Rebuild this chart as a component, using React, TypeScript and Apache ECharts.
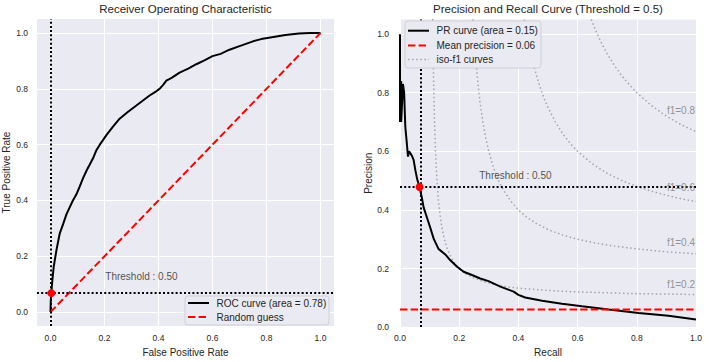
import React, { useEffect, useRef } from "react";
import * as echarts from "echarts";

// ---------- data ----------
const tickValues = [0, 0.2, 0.4, 0.6, 0.8, 1.0];

const rocFpr = [0, 0.001, 0.003, 0.007, 0.012, 0.022, 0.034, 0.047, 0.059, 0.071, 0.083, 0.096, 0.108, 0.121, 0.135, 0.145, 0.158, 0.17, 0.182, 0.195, 0.207, 0.23, 0.256, 0.285, 0.318, 0.345, 0.367, 0.39, 0.404, 0.418, 0.429, 0.45, 0.478, 0.51, 0.54, 0.57, 0.6, 0.63, 0.663, 0.7, 0.75, 0.78, 0.82, 0.87, 0.92, 0.96, 1.0];
const rocTpr = [0, 0.04, 0.068, 0.116, 0.163, 0.222, 0.281, 0.316, 0.35, 0.375, 0.4, 0.422, 0.45, 0.481, 0.51, 0.528, 0.552, 0.58, 0.599, 0.617, 0.634, 0.663, 0.693, 0.716, 0.74, 0.76, 0.776, 0.79, 0.8, 0.815, 0.829, 0.84, 0.858, 0.872, 0.888, 0.902, 0.917, 0.925, 0.94, 0.953, 0.97, 0.978, 0.985, 0.993, 0.998, 1.0, 1.0];

const randomGuessX = [0, 1];
const randomGuessY = [0, 1];

const prRecall = [0, 0, 0.004, 0.005, 0.004, 0.01, 0.014, 0.016, 0.018, 0.022, 0.027, 0.031, 0.035, 0.04, 0.046, 0.052, 0.058, 0.066, 0.074, 0.08, 0.091, 0.102, 0.114, 0.13, 0.153, 0.17, 0.193, 0.215, 0.243, 0.271, 0.299, 0.339, 0.384, 0.4, 0.423, 0.48, 0.547, 0.615, 0.705, 0.806, 0.907, 1.0];
const prPrecision = [1.0, 0.7, 0.84, 0.76, 0.7, 0.83, 0.8, 0.74, 0.683, 0.64, 0.582, 0.6, 0.593, 0.585, 0.571, 0.535, 0.505, 0.478, 0.441, 0.408, 0.374, 0.34, 0.301, 0.267, 0.248, 0.228, 0.206, 0.189, 0.178, 0.166, 0.157, 0.138, 0.121, 0.11, 0.101, 0.09, 0.08, 0.071, 0.06, 0.048, 0.039, 0.026];

const meanPrecisionX = [0, 1];
const meanPrecisionY = [0.06, 0.06];

const iso02Recall = [0.1105, 0.112, 0.114, 0.116, 0.118, 0.12, 0.123, 0.126, 0.13, 0.135, 0.14, 0.145, 0.15, 0.16, 0.17, 0.18, 0.19, 0.2, 0.22, 0.25, 0.28, 0.32, 0.36, 0.4, 0.45, 0.5, 0.6, 0.7, 0.8, 0.9, 1.0];
const iso02Precision = [1.052, 0.933, 0.814, 0.725, 0.656, 0.6, 0.535, 0.485, 0.433, 0.386, 0.35, 0.322, 0.3, 0.267, 0.243, 0.225, 0.211, 0.2, 0.183, 0.167, 0.156, 0.145, 0.138, 0.133, 0.129, 0.125, 0.12, 0.117, 0.114, 0.113, 0.111];
const iso04Recall = [0.247, 0.25, 0.255, 0.26, 0.265, 0.27, 0.28, 0.29, 0.3, 0.31, 0.32, 0.335, 0.35, 0.375, 0.4, 0.43, 0.46, 0.5, 0.55, 0.6, 0.65, 0.7, 0.8, 0.9, 1.0];
const iso04Precision = [1.051, 1.0, 0.927, 0.867, 0.815, 0.771, 0.7, 0.644, 0.6, 0.564, 0.533, 0.496, 0.467, 0.429, 0.4, 0.374, 0.354, 0.333, 0.314, 0.3, 0.289, 0.28, 0.267, 0.257, 0.25];
const iso06Recall = [0.42, 0.425, 0.43, 0.44, 0.45, 0.46, 0.475, 0.49, 0.5, 0.525, 0.55, 0.575, 0.6, 0.65, 0.7, 0.75, 0.8, 0.85, 0.9, 0.95, 1.0];
const iso06Precision = [1.05, 1.02, 0.992, 0.943, 0.9, 0.863, 0.814, 0.772, 0.75, 0.7, 0.66, 0.627, 0.6, 0.557, 0.525, 0.5, 0.48, 0.464, 0.45, 0.438, 0.429];
const iso08Recall = [0.646, 0.66, 0.68, 0.7, 0.725, 0.75, 0.775, 0.8, 0.85, 0.9, 0.95, 1.0];
const iso08Precision = [1.05, 1.015, 0.971, 0.933, 0.892, 0.857, 0.827, 0.8, 0.756, 0.72, 0.691, 0.667];

const isoLabels = ["f1=0.2", "f1=0.4", "f1=0.6", "f1=0.8"];
const isoLabelY = [0.144, 0.288, 0.477, 0.74];
const isoLabelX = 0.9;

const rocThresholdPoint = [0.003, 0.068];
const prThresholdPoint = [0.066, 0.478];
const thresholdLabel = "Threshold : 0.50";
const rocThresholdTextPos = [0.201, 0.127];
const prThresholdTextPos = [0.266, 0.518];

const rocLegend = ["ROC curve (area = 0.78)", "Random guess"];
const prLegend = ["PR curve (area = 0.15)", "Mean precision = 0.06", "iso-f1 curves"];
const titles = ["Receiver Operating Characteristic", "Precision and Recall Curve (Threshold = 0.5)"];

// ---------- styles ----------
const FONT = "'Liberation Sans', Arial, Helvetica, sans-serif";
const TXT = "#262626";
const RED = "#ff0000";
const ISO = "#a3a3a8";

const zip = (a: number[], b: number[]) => a.map((v, i) => [v, b[i]]);

function axis(gridIndex: number, name: string, min: number, max: number, nameGap: number, margin: number) {
  return {
    type: "value",
    gridIndex,
    min,
    max,
    name,
    nameLocation: "middle",
    nameGap,
    nameTextStyle: { color: TXT, fontSize: 10, fontFamily: FONT },
    axisLine: { show: false },
    axisTick: { show: false, customValues: tickValues },
    axisLabel: {
      customValues: tickValues,
      formatter: (v: number) => v.toFixed(1),
      color: TXT,
      fontSize: 8.5,
      fontFamily: FONT,
      margin,
    },
    splitLine: { show: true, lineStyle: { color: "#ffffff", width: 1 } },
  };
}

const dotted = { color: "#000", width: 2, type: [2, 2.2] };

function thresholdMarks(pt: number[]) {
  return {
    silent: true,
    symbol: "none",
    label: { show: false },
    lineStyle: dotted,
    emphasis: { disabled: true },
    data: [{ xAxis: pt[0] }, { yAxis: pt[1] }],
  };
}

function textSeries(xi: number, pos: number[], text: string, color: string) {
  return {
    type: "scatter",
    xAxisIndex: xi,
    yAxisIndex: xi,
    data: [pos],
    symbolSize: 1,
    itemStyle: { color: "rgba(0,0,0,0)" },
    silent: true,
    z: 6,
    label: {
      show: true,
      formatter: text,
      position: "right",
      distance: 0,
      color,
      fontSize: 10,
      fontFamily: FONT,
    },
  };
}

function isoSeries(x: number[], y: number[]) {
  return {
    type: "line",
    xAxisIndex: 1,
    yAxisIndex: 1,
    data: zip(x, y),
    showSymbol: false,
    symbol: "none",
    smooth: false,
    clip: true,
    silent: true,
    z: 1,
    lineStyle: { color: ISO, width: 1.5, type: [1.5, 2.6] },
  };
}

function legendGraphics(x: number, y: number, w: number, h: number, rows: { label: string; color: string; dash: number[] | null; width: number }[], rowY: number[]) {
  const els: any[] = [
    {
      type: "rect",
      z: 100,
      shape: { x, y, width: w, height: h, r: 3 },
      style: { fill: "#eaeaf2", stroke: "#cfcfd4", lineWidth: 1 },
    },
  ];
  rows.forEach((r, i) => {
    els.push({
      type: "line",
      z: 101,
      shape: { x1: x + 3, y1: rowY[i], x2: x + 24, y2: rowY[i] },
      style: { stroke: r.color, lineWidth: r.width, lineDash: r.dash || undefined },
    });
    els.push({
      type: "text",
      z: 101,
      x: x + 31.5,
      y: rowY[i],
      style: { text: r.label, fill: TXT, fontSize: 10, fontFamily: FONT, verticalAlign: "middle", align: "left" },
    });
  });
  return els;
}

export default function App() {
  const ref = useRef<HTMLDivElement>(null);
  useEffect(() => {
    const chart = echarts.init(ref.current!, null, { renderer: "svg" });
    const option: any = {
      animation: false,
      backgroundColor: "#ffffff",
      grid: [
        { left: 37, top: 19, width: 297, height: 311, show: true, backgroundColor: "#eaeaf2", borderWidth: 0 },
        { left: 400, top: 19.5, width: 296, height: 311.5, show: true, backgroundColor: "#eaeaf2", borderWidth: 0 },
      ],
      xAxis: [
        axis(0, "False Positive Rate", -0.05, 1.05, 19, 7),
        axis(1, "Recall", 0, 1, 18, 6),
      ],
      yAxis: [
        axis(0, "True Positive Rate", -0.05, 1.05, 26, 9),
        axis(1, "Precision", 0, 1.05, 25, 11),
      ],
      series: [
        // ROC panel
        {
          type: "line",
          xAxisIndex: 0,
          yAxisIndex: 0,
          data: zip(rocFpr, rocTpr),
          showSymbol: false,
          symbol: "none",
          silent: true,
          z: 3,
          lineStyle: { color: "#000", width: 2 },
          markLine: thresholdMarks(rocThresholdPoint),
        },
        {
          type: "line",
          xAxisIndex: 0,
          yAxisIndex: 0,
          data: zip(randomGuessX, randomGuessY),
          showSymbol: false,
          symbol: "none",
          silent: true,
          z: 3,
          lineStyle: { color: RED, width: 2, type: [7.4, 3.2] },
        },
        {
          type: "scatter",
          xAxisIndex: 0,
          yAxisIndex: 0,
          data: [rocThresholdPoint],
          symbolSize: 8,
          itemStyle: { color: RED, opacity: 1 },
          silent: true,
          z: 5,
        },
        textSeries(0, rocThresholdTextPos, thresholdLabel, TXT),
        // PR panel
        isoSeries(iso02Recall, iso02Precision),
        isoSeries(iso04Recall, iso04Precision),
        isoSeries(iso06Recall, iso06Precision),
        isoSeries(iso08Recall, iso08Precision),
        {
          type: "line",
          xAxisIndex: 1,
          yAxisIndex: 1,
          data: zip(prRecall, prPrecision),
          showSymbol: false,
          symbol: "none",
          silent: true,
          z: 3,
          lineStyle: { color: "#000", width: 2 },
          markLine: thresholdMarks(prThresholdPoint),
        },
        {
          type: "line",
          xAxisIndex: 1,
          yAxisIndex: 1,
          data: zip(meanPrecisionX, meanPrecisionY),
          showSymbol: false,
          symbol: "none",
          silent: true,
          z: 3,
          lineStyle: { color: RED, width: 2, type: [7.4, 3.2] },
        },
        {
          type: "scatter",
          xAxisIndex: 1,
          yAxisIndex: 1,
          data: [prThresholdPoint],
          symbolSize: 8,
          itemStyle: { color: RED, opacity: 1 },
          silent: true,
          z: 5,
        },
        textSeries(1, prThresholdTextPos, thresholdLabel, TXT),
        ...isoLabels.map((t, i) => textSeries(1, [isoLabelX, isoLabelY[i]], t, "#7a7a7a")),
      ],
      graphic: [
        {
          type: "text",
          z: 100,
          x: 185.5,
          y: 9,
          style: { text: titles[0], fill: TXT, fontSize: 11.5, fontFamily: FONT, align: "center", verticalAlign: "middle" },
        },
        {
          type: "text",
          z: 100,
          x: 548,
          y: 9,
          style: { text: titles[1], fill: TXT, fontSize: 11.5, fontFamily: FONT, align: "center", verticalAlign: "middle" },
        },
        ...legendGraphics(
          185, 296, 144, 29,
          [
            { label: rocLegend[0], color: "#000", dash: null, width: 2 },
            { label: rocLegend[1], color: RED, dash: [7.4, 3.2], width: 2 },
          ],
          [303, 317]
        ),
        ...legendGraphics(
          405, 21, 136, 47,
          [
            { label: prLegend[0], color: "#000", dash: null, width: 2 },
            { label: prLegend[1], color: RED, dash: [7.4, 3.2], width: 2 },
            { label: prLegend[2], color: ISO, dash: [1.5, 2.6], width: 1.5 },
          ],
          [30.7, 45.5, 59.5]
        ),
      ],
    };
    chart.setOption(option);
    return () => chart.dispose();
  }, []);
  return <div ref={ref} style={{ position: "absolute", left: 0, top: 0, width: 710, height: 362 }} />;
}
